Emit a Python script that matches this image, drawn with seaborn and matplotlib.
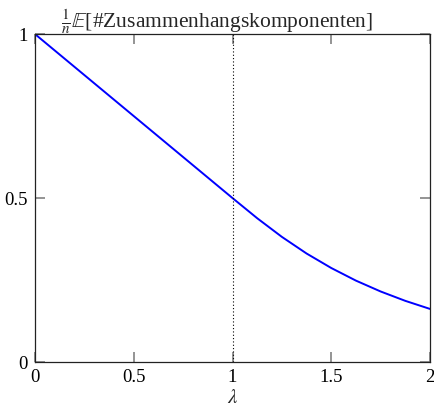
import matplotlib
matplotlib.use("Agg")
import matplotlib.pyplot as plt
import seaborn as sns
import pandas as pd

lam = [0.0, 0.25, 0.5, 0.75, 1.0, 1.125, 1.25, 1.375, 1.5, 1.625, 1.75, 1.875, 2.0]
kappa = [1.0, 0.875, 0.75, 0.625, 0.5, 0.4385, 0.3816, 0.3309, 0.2867, 0.2482, 0.2151, 0.1865, 0.1619]
xticks = [0, 0.5, 1, 1.5, 2]
xticklabels = ["0", "0.5", "1", "1.5", "2"]
yticks = [0, 0.5, 1]
yticklabels = ["0", "0.5", "1"]

sns.set_theme(style="ticks")
plt.rcParams["font.family"] = ["Liberation Serif", "DejaVu Serif"]
plt.rcParams["mathtext.fontset"] = "stix"

df = pd.DataFrame({"lam": lam, "kappa": kappa})

fig = plt.figure(figsize=(4.35, 4.11), dpi=100)
ax = fig.add_axes([0.0805, 0.1192, 0.908, 0.7978])
sns.lineplot(data=df, x="lam", y="kappa", ax=ax, color="#0000ff", linewidth=1.4)
ax.axvline(1, color="black", linestyle=(0, (1, 2)), linewidth=0.8)

ax.set_xlim(0, 2)
ax.set_ylim(0, 1)
ax.set_xticks(xticks)
ax.set_xticklabels(xticklabels)
ax.set_yticks(yticks)
ax.set_yticklabels(yticklabels)
ax.tick_params(which="major", direction="in", length=7, width=1.1, color="#777777",
               labelcolor="black", labelsize=13.5,
               top=True, right=True, bottom=True, left=True, pad=5)
ax.minorticks_off()
for s in ax.spines.values():
    s.set_color("#222222")
    s.set_linewidth(0.9)
    s.set_visible(True)
ax.set_xlabel(r"$\lambda$", fontsize=15, labelpad=2)
ax.set_ylabel("")
fig.text(0.5, 0.946, r"$\frac{1}{n}\mathbb{E}$[#Zusammenhangskomponenten]",
         fontsize=15.5, ha="center", va="center")
ax.grid(False)

fig.savefig("out.png", dpi=100)
